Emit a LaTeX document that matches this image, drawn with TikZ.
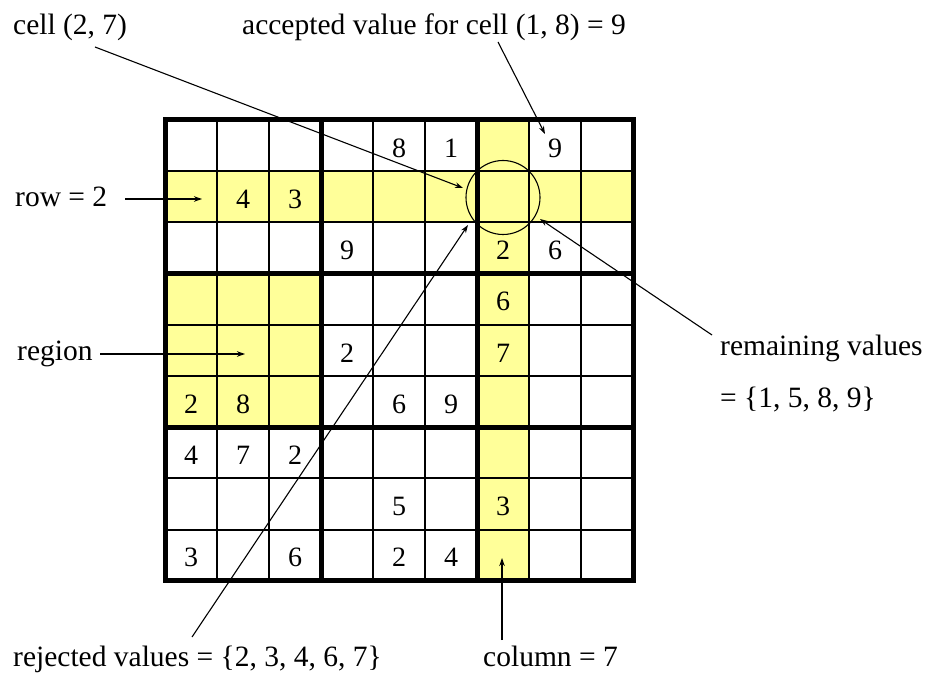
\documentclass[tikz,border=0pt]{standalone}
\usepackage{fontspec}
\setmainfont{Liberation Serif}
\newfontfamily\tnr{Liberation Serif}
\usetikzlibrary{arrows.meta}
\definecolor{hl}{RGB}{255,255,153}
\begin{document}
\begin{tikzpicture}[x=1pt,y=-1pt,
  lbl/.style={font=\tnr\fontsize{29.5}{34}\selectfont, inner sep=0pt, anchor=base west},
  num/.style={font=\tnr\fontsize{28}{32}\selectfont, inner sep=0pt},
  arr/.style={line width=1.1pt, -{Stealth[length=8pt,width=5.5pt]}},
  thinline/.style={line width=2pt},
  thickline/.style={line width=5pt}]
\useasboundingbox (0,0) rectangle (927,676);
% highlighted cells
\fill[hl] (165,171.2) rectangle (633,222.4);
\fill[hl] (477,120) rectangle (529,580.8);
\fill[hl] (165,273.6) rectangle (321,427.2);
% thin grid lines
\foreach \i in {1,2,4,5,7,8} {
  \draw[thinline] ({165+52*\i},120) -- ({165+52*\i},580.8);
  \draw[thinline] (165,{120+51.2*\i}) -- (633,{120+51.2*\i});
}
% thick grid lines
\foreach \i in {3,6} {
  \draw[thickline] ({165+52*\i},120) -- ({165+52*\i},580.8);
  \draw[thickline] (165,{120+51.2*\i}) -- (633,{120+51.2*\i});
}
\draw[thickline] (165,120) rectangle (633,580.8);
% numbers
\foreach \r/\c/\v in {1/5/8,1/6/1,1/8/9,2/2/4,2/3/3,3/4/9,3/7/2,3/8/6,4/7/6,5/4/2,5/7/7,
  6/1/2,6/2/8,6/5/6,6/6/9,7/1/4,7/2/7,7/3/2,8/5/5,8/7/3,9/1/3,9/3/6,9/5/2,9/6/4} {
  \node[num] (n\r\c) at ({165+52*(\c-0.5)},{120+51.2*(\r-0.5)+2.5}) {\v};
}
% circle round cell (2,7)
\node[draw, circle, minimum size=74pt, inner sep=0pt, line width=1.1pt] (ring) at (503,197.5) {};
% labels
\node[lbl] (cell) at (13,35) {cell (2, 7)};
\node[lbl] (acc) at (242,35) {accepted value for cell (1, 8) = 9};
\node[lbl] (row) at (15,207) {row = 2};
\node[lbl] (reg) at (17,361) {region};
\node[lbl] (rem1) at (720,356) {remaining values};
\node[lbl] (rem2) at (720,408) {= \{1, 5, 8, 9\}};
\node[lbl] (rej) at (13,666) {rejected values = \{2, 3, 4, 6, 7\}};
\node[lbl] (col) at (483,666) {column = 7};
% connector ends
\coordinate (cellS) at (95,47);
\coordinate (cellE) at (463,188);
\coordinate (accS) at (498,42);
\coordinate (accE) at (545,134);
\coordinate (rowS) at (125,199);
\coordinate (rowE) at (202,199);
\coordinate (regS) at (100,354);
\coordinate (regE) at (245,354);
\coordinate (remS) at (712,335);
\coordinate (remE) at (540,219);
\coordinate (rejS) at (192,637);
\coordinate (rejE) at (468,225);
\coordinate (colS) at (502,640);
\coordinate (colE) at (502,558);
\draw[arr] (cellS) -- (cellE);
\draw[arr] (accS) -- (accE);
\draw[arr] (rowS) -- (rowE);
\draw[arr] (regS) -- (regE);
\draw[arr] (remS) -- (remE);
\draw[arr] (rejS) -- (rejE);
\draw[arr] (colS) -- (colE);
\end{tikzpicture}
\end{document}
